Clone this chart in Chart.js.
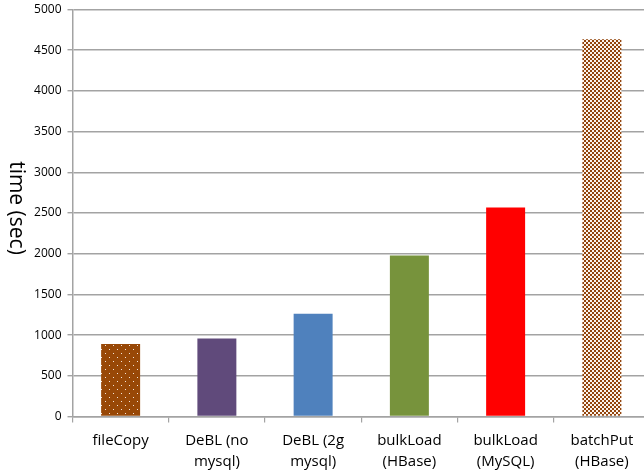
<!DOCTYPE html>
<html>
<head>
<meta charset="utf-8">
<script src="https://cdn.jsdelivr.net/npm/chart.js@4/dist/chart.umd.min.js"></script>
<style>
  html, body { margin: 0; padding: 0; background: #fff; overflow: hidden; }
  #wrap { width: 644px; height: 474px; overflow: hidden; }
  canvas { display: block; }
</style>
</head>
<body>
<div id="wrap"><canvas id="loadChart" width="652" height="474"></canvas></div>
<script>
// Chart data
const categories = [
  ['fileCopy'],
  ['DeBL (no', 'mysql)'],
  ['DeBL (2g', 'mysql)'],
  ['bulkLoad', '(HBase)'],
  ['bulkLoad', '(MySQL)'],
  ['batchPut', '(HBase)']
];
const loadTimes = [890, 958, 1262, 1977, 2568, 4635];
const yTicks = [0, 500, 1000, 1500, 2000, 2500, 3000, 3500, 4000, 4500, 5000];
const yTitle = 'time (sec)';

const FONT = "'Open Sans', 'Liberation Sans', sans-serif";
const GRID = '#a3a3a3';

/**
 * Build the dotted and checkered fills used by Excel
 */
function dotPattern() {
  const c = document.createElement('canvas');
  c.width = 8; c.height = 8;
  const g = c.getContext('2d');
  g.fillStyle = '#984807';
  g.fillRect(0, 0, 8, 8);
  g.fillStyle = '#f4e6da';
  g.fillRect(1, 1, 1, 1);
  g.fillRect(5, 5, 1, 1);
  return g.createPattern(c, 'repeat');
}

function checkerPattern() {
  const c = document.createElement('canvas');
  c.width = 4; c.height = 4;
  const g = c.getContext('2d');
  g.fillStyle = '#fbf3ec';
  g.fillRect(0, 0, 4, 4);
  g.fillStyle = '#92440c';
  g.fillRect(0, 0, 2, 2);
  g.fillRect(2, 2, 2, 2);
  return g.createPattern(c, 'repeat');
}

const barColors = [
  dotPattern(),
  '#604a7b',
  '#4f81bd',
  '#77933c',
  '#ff0000',
  checkerPattern()
];

// y-axis title rotated clockwise, as in the original
const yTitlePlugin = {
  id: 'yTitle',
  afterDraw(chart) {
    const ctx = chart.ctx;
    ctx.save();
    ctx.translate(16, 208);
    ctx.rotate(Math.PI / 2);
    ctx.fillStyle = '#000';
    ctx.font = '21px ' + FONT;
    ctx.textAlign = 'center';
    ctx.textBaseline = 'middle';
    ctx.fillText(yTitle, 0, 0);
    ctx.restore();
  }
};

const ctx = document.getElementById('loadChart');
new Chart(ctx, {
  type: 'bar',
  data: {
    labels: categories,
    datasets: [{
      data: loadTimes,
      backgroundColor: barColors,
      borderWidth: 0,
      categoryPercentage: 1,
      barPercentage: 0.405
    }]
  },
  options: {
    responsive: false,
    animation: false,
    layout: { padding: { top: 9.5, right: 2, left: 0, bottom: 0 } },
    plugins: {
      legend: { display: false },
      tooltip: { enabled: false }
    },
    scales: {
      y: {
        min: 0,
        max: 5000,
        afterBuildTicks: (scale) => {
          scale.ticks = yTicks.map(v => ({ value: v }));
        },
        afterFit: (scale) => {
          scale.width = 72.5;
          scale.paddingTop = 0;
          scale.paddingBottom = 0;
        },
        border: { display: true, color: GRID, width: 1.5 },
        grid: {
          color: GRID,
          lineWidth: 1.4,
          drawTicks: true,
          tickLength: 5
        },
        ticks: {
          color: '#000',
          padding: 6,
          font: { family: FONT, size: 12 },
          callback: (value) => String(value)
        }
      },
      x: {
        afterFit: (scale) => { scale.height = 57.5; },
        border: { display: true, color: GRID, width: 1.5 },
        grid: {
          offset: true,
          drawOnChartArea: false,
          drawTicks: true,
          tickLength: 6,
          color: GRID,
          lineWidth: 1.2
        },
        ticks: {
          color: '#000',
          padding: 8,
          maxRotation: 0,
          autoSkip: false,
          font: { family: FONT, size: 15, lineHeight: 1.4 }
        }
      }
    }
  },
  plugins: [yTitlePlugin]
});
</script>
</body>
</html>
